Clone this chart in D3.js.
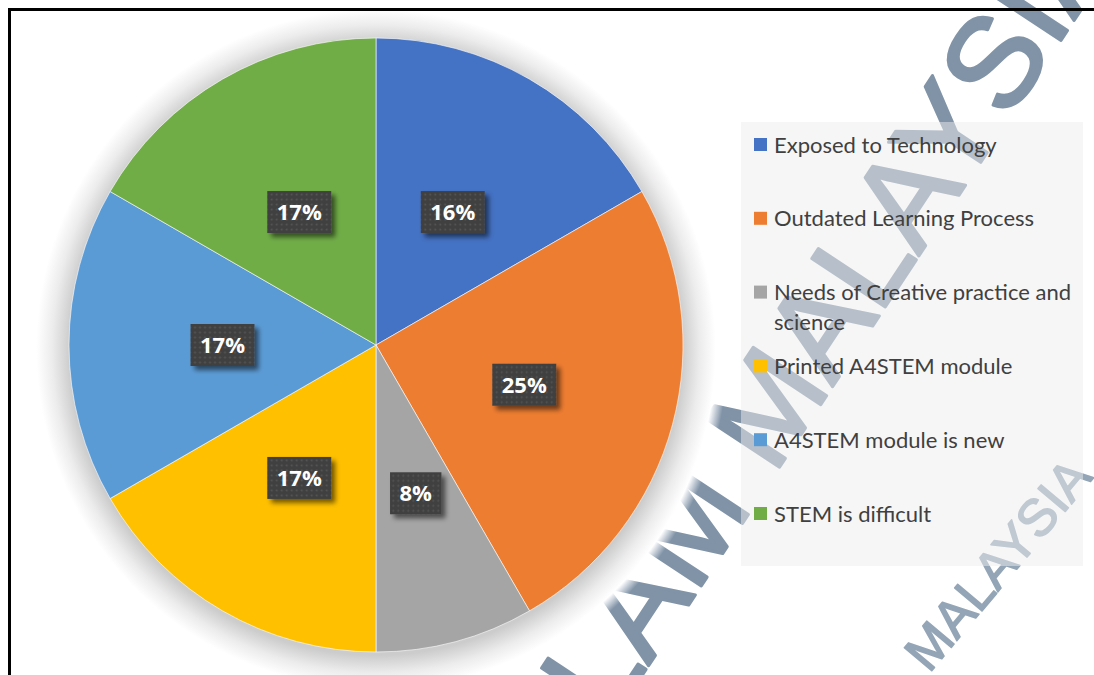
<!DOCTYPE html>
<html>
<head>
<meta charset="utf-8">
<script src="https://cdn.jsdelivr.net/npm/d3@7"></script>
<style>
  html, body { margin: 0; padding: 0; background: #fff; }
  svg { display: block; }
</style>
</head>
<body>
<div id="chart"></div>
<script>
// data
const categories = ["Exposed to Technology", "Outdated Learning Process", "Needs of Creative practice and science",
                    "Printed A4STEM module", "A4STEM module is new", "STEM is difficult"];
const responses = [2, 3, 1, 2, 2, 2];
const pctLabels = ["16%", "25%", "8%", "17%", "17%", "17%"];
const colors = ["#4472C4", "#ED7D31", "#A5A5A5", "#FFC000", "#5B9BD5", "#70AD47"];
const legendLines = [["Exposed to Technology"], ["Outdated Learning Process"], ["Needs of Creative practice and", "science"],
                     ["Printed A4STEM module"], ["A4STEM module is new"], ["STEM is difficult"]];

const W = 1094, H = 675;
const cx = 376, cy = 345, radius = 307;

const svg = d3.select("#chart")
  .append("svg")
  .attr("width", W)
  .attr("height", H);

const defs = svg.append("defs");

// soft halo / shadow round the pie
const halo = defs.append("radialGradient").attr("id", "halo")
  .attr("gradientUnits", "userSpaceOnUse")
  .attr("cx", 0).attr("cy", 4).attr("r", radius + 45);
const haloStops = [[0, "#cccccc", 1], [0.87, "#cccccc", 1], [0.92, "#ececec", 1],
                   [0.965, "#ffffff", 1], [1, "#ffffff", 0]];
halo.selectAll("stop").data(haloStops).join("stop")
  .attr("offset", d => d[0]).attr("stop-color", d => d[1]).attr("stop-opacity", d => d[2]);

// shadow for the label boxes
const boxShadow = defs.append("filter").attr("id", "boxShadow")
  .attr("x", "-30%").attr("y", "-30%").attr("width", "160%").attr("height", "160%");
boxShadow.append("feGaussianBlur").attr("in", "SourceAlpha").attr("stdDeviation", 2.5).attr("result", "b");
boxShadow.append("feOffset").attr("in", "b").attr("dx", 4).attr("dy", 4).attr("result", "o");
boxShadow.append("feComponentTransfer").attr("in", "o").attr("result", "s")
  .append("feFuncA").attr("type", "linear").attr("slope", 0.55);
const m2 = boxShadow.append("feMerge");
m2.append("feMergeNode").attr("in", "s");
m2.append("feMergeNode").attr("in", "SourceGraphic");

// dotted fill of the label boxes
const dots = defs.append("pattern").attr("id", "dots")
  .attr("patternUnits", "userSpaceOnUse").attr("width", 5).attr("height", 5);
dots.append("rect").attr("width", 5).attr("height", 5).attr("fill", "#404040");
dots.append("circle").attr("cx", 2.5).attr("cy", 2.5).attr("r", 0.9).attr("fill", "#575757");

// watermark behind everything
const wm = svg.append("g").attr("font-family", "'Liberation Sans', Arial, sans-serif")
  .attr("stroke-linejoin", "round");
wm.append("text")
  .attr("transform", "translate(725,550) rotate(-56.6)")
  .attr("x", -331)
  .attr("font-size", 128)
  .attr("fill", "#8093a7")
  .attr("stroke", "#8093a7")
  .attr("stroke-width", 3)
  .text("ISLAM MALAYSIA");
wm.append("text")
  .attr("transform", "translate(929,674) rotate(-50)")
  .attr("font-size", 52)
  .attr("fill", "#93a5b6")
  .attr("stroke", "#93a5b6")
  .attr("stroke-width", 1.5)
  .text("MALAYSIA");

// pie
const pie = d3.pie().sort(null).value(d => d);
const arc = d3.arc().innerRadius(0).outerRadius(radius);
const labelArc = d3.arc().innerRadius(radius / 2).outerRadius(radius / 2);
const arcs = pie(responses);

const g = svg.append("g").attr("transform", `translate(${cx},${cy})`);

g.append("circle")
  .attr("cx", 0).attr("cy", 4)
  .attr("r", radius + 45)
  .attr("fill", "url(#halo)");

g.append("g")
  .selectAll("path")
  .data(arcs)
  .join("path")
  .attr("d", arc)
  .attr("fill", (d, i) => colors[i])
  .attr("stroke", "#ffffff")
  .attr("stroke-width", 0.6);

// data labels
const lbl = g.selectAll("g.lbl")
  .data(arcs)
  .join("g")
  .attr("class", "lbl")
  .attr("transform", d => `translate(${labelArc.centroid(d)})`);

lbl.each(function(d, i) {
  const el = d3.select(this);
  const t = el.append("text")
    .attr("text-anchor", "middle")
    .attr("dy", "0.36em")
    .attr("fill", "#ffffff")
    .attr("font-family", "'Open Sans', sans-serif")
    .attr("font-weight", "bold")
    .attr("font-size", 22)
    .text(pctLabels[i]);
  const w = t.node().getComputedTextLength() + 19;
  el.insert("rect", "text")
    .attr("x", -w / 2).attr("y", -21)
    .attr("width", w).attr("height", 42)
    .attr("fill", "url(#dots)")
    .attr("filter", "url(#boxShadow)");
});

// legend
const legend = svg.append("g");
legend.append("rect")
  .attr("x", 741).attr("y", 122)
  .attr("width", 342).attr("height", 444)
  .attr("fill", "#ededed")
  .attr("fill-opacity", 0.5);

const legY = d3.scalePoint().domain(categories).range([145, 514]);

const items = legend.selectAll("g.item")
  .data(categories)
  .join("g")
  .attr("class", "item")
  .attr("transform", d => `translate(754,${legY(d)})`);

items.append("rect")
  .attr("x", 0).attr("y", -7)
  .attr("width", 13).attr("height", 13)
  .attr("fill", (d, i) => colors[i]);

items.append("text")
  .attr("x", 20)
  .attr("y", 7.5)
  .attr("fill", "#404040")
  .attr("font-family", "Lato, 'Open Sans', sans-serif")
  .attr("font-size", 22)
  .selectAll("tspan")
  .data((d, i) => legendLines[i])
  .join("tspan")
  .attr("x", 20)
  .attr("dy", (d, j) => j === 0 ? 0 : 30)
  .text(d => d);

// frame
svg.append("rect")
  .attr("x", 9.5).attr("y", 9.5)
  .attr("width", 1200).attr("height", 800)
  .attr("fill", "none")
  .attr("stroke", "#000")
  .attr("stroke-width", 3);
</script>
</body>
</html>
